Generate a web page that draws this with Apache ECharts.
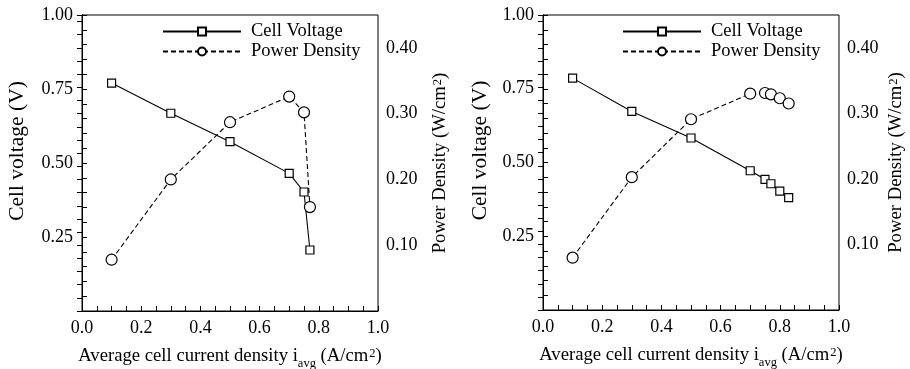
<!DOCTYPE html>
<html>
<head>
<meta charset="utf-8">
<script src="https://cdn.jsdelivr.net/npm/echarts@6/dist/echarts.min.js"></script>
<style>html,body{margin:0;padding:0;background:#fff}#c{width:910px;height:369px}</style>
</head>
<body>
<div id="c"></div>
<script>
// ---- data ----
const leftCurrent  = [0.10, 0.30, 0.50, 0.70, 0.75, 0.77];
const leftVoltage  = [0.770, 0.668, 0.572, 0.465, 0.402, 0.206];
const leftPower    = [0.078, 0.200, 0.287, 0.326, 0.302, 0.158];
const rightCurrent = [0.10, 0.30, 0.50, 0.70, 0.75, 0.77, 0.80, 0.83];
const rightVoltage = [0.786, 0.673, 0.583, 0.472, 0.443, 0.428, 0.403, 0.381];
const rightPower   = [0.0798, 0.2026, 0.291, 0.330, 0.331, 0.329, 0.323, 0.315];
const xTickLabels  = ['0.0', '0.2', '0.4', '0.6', '0.8', '1.0'];
const vTickLabels  = ['0.25', '0.50', '0.75', '1.00'];
const pTickLabels  = ['0.10', '0.20', '0.30', '0.40'];
const seriesNames  = ['Cell Voltage', 'Power Density'];

const FONT = 'Liberation Serif';
const pick = (list) => (v) => {
  const s2 = v.toFixed(2), s1 = v.toFixed(1);
  if (list.indexOf(s2) >= 0) return s2;
  if (list.indexOf(s1) >= 0 && Math.abs(v - parseFloat(s1)) < 1e-9) return s1;
  return '';
};
const rich = {
  t: {fontFamily: FONT, fontSize: 18.7, color: '#000', lineHeight: 20, verticalAlign: 'top'},
  s: {fontFamily: FONT, fontSize: 12.5, color: '#000', lineHeight: 12, verticalAlign: 'top', padding: [10, 0, 0, 0]},
  p: {fontFamily: FONT, fontSize: 12.5, color: '#000', lineHeight: 12, verticalAlign: 'top', padding: [0, 0, 0, 1]}
};
const axisLine = {show: true, lineStyle: {color: '#000', width: 1}};
// negative length draws the ticks toward the plot area
const axisTick = {show: true, inside: false, length: -5, lineStyle: {color: '#000', width: 1}};
const lbl = {color: '#000', fontFamily: FONT, fontSize: 18};

const grids = [
  {left: 82, top: 15, width: 296, height: 296},
  {left: 543, top: 15, width: 296, height: 295}
];

function xAxis(i) {
  return {
    type: 'value', gridIndex: i, min: 0, max: 1, interval: 0.05,
    axisLine, axisTick: {show: false}, splitLine: {show: false},
    axisLabel: Object.assign({margin: 8, formatter: pick(xTickLabels)}, lbl),
    name: '{t|Average cell current density i}{s|avg}{t| (A/cm}{p|2}{t|)}',
    nameLocation: 'middle', nameGap: 36,
    nameTextStyle: {rich}
  };
}
// tick-only copy of the x axis, shifted 5px into the plot, ticks pointing back to the axis line
function xTickAxis(i) {
  return {
    type: 'value', gridIndex: i, position: 'bottom', offset: -5, min: 0, max: 1, interval: 0.05,
    axisLine: {show: false}, splitLine: {show: false}, axisLabel: {show: false},
    axisTick: {show: true, inside: false, length: 5, lineStyle: {color: '#000', width: 1}},
    z: 5
  };
}
function yLeft(i, gap) {
  return {
    type: 'value', gridIndex: i, position: 'left', min: 0, max: 1, interval: 0.05,
    axisLine, axisTick, splitLine: {show: false},
    axisLabel: Object.assign({margin: 9, formatter: pick(vTickLabels)}, lbl),
    name: 'Cell voltage (V)', nameLocation: 'middle', nameGap: gap,
    nameTextStyle: {fontFamily: FONT, fontSize: 21.5, color: '#000', padding: [0, 0, 0, 24]}
  };
}
function yRight(i, gap) {
  return {
    type: 'value', gridIndex: i, position: 'right', min: 0, max: 0.45, interval: 0.02,
    axisLine, axisTick, splitLine: {show: false},
    axisLabel: Object.assign({margin: 8, formatter: (v) => v < 0.449 ? pick(pTickLabels)(v) : ''}, lbl),
    name: '{t|Power Density (W/cm}{p|2}{t|)}', nameLocation: 'middle', nameGap: gap,
    nameRotate: 90,
    nameTextStyle: {rich}
  };
}
function series(name, xs, ys, xi, yi, dashed, sym, size) {
  return {
    name, type: 'line', xAxisIndex: xi, yAxisIndex: yi,
    data: xs.map((x, k) => [x, ys[k]]),
    symbol: sym, symbolSize: size, showSymbol: true,
    lineStyle: {color: '#000', width: 1.1, type: dashed ? [5, 3] : 'solid'},
    itemStyle: {color: '#fff', borderColor: '#000', borderWidth: 1.2},
    emphasis: {disabled: true}, z: 3
  };
}
function legend(left) {
  return {
    data: seriesNames, orient: 'vertical', left, top: 17,
    itemWidth: 78, itemHeight: 10, itemGap: 1,
    textStyle: {fontFamily: FONT, fontSize: 18.5, color: '#000', padding: [0, 0, 0, 5]},
    selectedMode: false
  };
}

const chart = echarts.init(document.getElementById('c'), null, {renderer: 'canvas'});
chart.setOption({
  animation: false,
  backgroundColor: '#fff',
  grid: grids.map(g => Object.assign({show: true, borderColor: '#000', borderWidth: 1, backgroundColor: 'transparent', containLabel: false, outerBoundsMode: 'none'}, g)),
  xAxis: [xAxis(0), xAxis(1), xTickAxis(0), xTickAxis(1)],
  yAxis: [yLeft(0, 54), yRight(0, 53), yLeft(1, 52), yRight(1, 48)],
  legend: [legend(157), legend(617)],
  series: [
    series(seriesNames[0], leftCurrent, leftVoltage, 0, 0, false, 'rect', 8),
    series(seriesNames[1], leftCurrent, leftPower, 0, 1, true, 'circle', 11),
    series(seriesNames[0], rightCurrent, rightVoltage, 1, 2, false, 'rect', 8),
    series(seriesNames[1], rightCurrent, rightPower, 1, 3, true, 'circle', 11)
  ]
});
</script>
</body>
</html>
